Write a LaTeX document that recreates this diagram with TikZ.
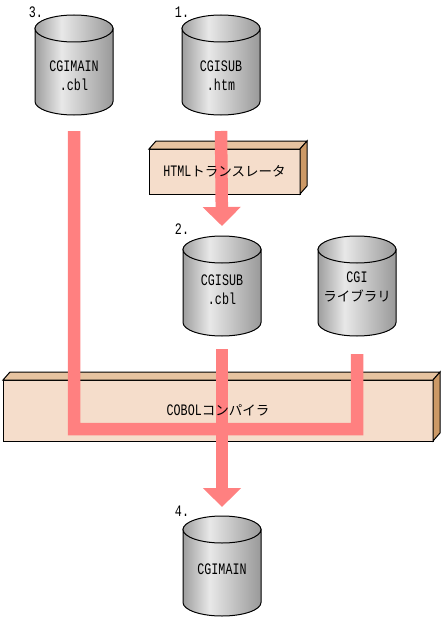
\documentclass[tikz,border=0pt]{standalone}
\usepackage{fontspec}
\setmainfont[FakeStretch=0.73]{Liberation Mono}
\newfontfamily\cjk{Noto Sans CJK JP}
\usepackage{tikz}
\usetikzlibrary{positioning,arrows.meta,shapes.geometric,calc}
\definecolor{boxfront}{HTML}{F5DDCB}
\definecolor{boxtop}{HTML}{E6C3A0}
\definecolor{boxside}{HTML}{CC9966}
\definecolor{flowpink}{HTML}{FF8080}
\pgfdeclarehorizontalshading{cylbody}{100bp}{color(0bp)=(black!38); color(25bp)=(black!38); color(42bp)=(black!9); color(75bp)=(black!40); color(100bp)=(black!40)}
\pgfdeclarehorizontalshading{cyltop}{100bp}{color(0bp)=(black!40); color(30bp)=(black!40); color(50bp)=(black!8); color(70bp)=(black!38); color(100bp)=(black!38)}
\tikzset{
  dbase/.style={cylinder,shape border rotate=90,shape aspect=0.54,draw,line width=1pt,outer sep=0pt,
    inner sep=0pt,text width=50pt,text height=18pt,text depth=18pt,minimum width=78pt,minimum height=100pt,shading=cylbody,
    append after command={
      \pgfextra{\draw[line width=1pt,shading=cyltop,shading angle=-20]
        ($(\tikzlastnode.before top)!0.5!(\tikzlastnode.after top)$) ellipse (39pt and 10.5pt);}}},
  filetext/.style={align=center,inner sep=0pt,font=\fontsize{16}{19}\selectfont},
  solidbox/.style={draw,line width=1pt,fill=boxfront,outer sep=0pt,inner sep=0pt},
  boxtext/.style={font=\fontsize{16}{14}\selectfont},
  numtext/.style={font=\fontsize{16}{14}\selectfont,inner sep=0pt},
  flow/.style={draw=flowpink,line width=12.5pt},
  flowtip/.style={flow,-{Triangle[width=37pt,length=19pt]}},
}
\newcommand{\jp}[1]{{\cjk\fontsize{13.5}{14}\selectfont #1}}
\begin{document}
\begin{tikzpicture}[x=1pt,y=-1pt,>=Stealth]
  \useasboundingbox (0,0) rectangle (443,623);
  % files
  \node[dbase] (cgimain) at (74,72) {};
  \node[dbase,right=69pt of cgimain] (cgisubhtm) {};
  \node[solidbox,minimum width=151pt,minimum height=45pt] (translator) at (224.5,171.5) {};
  \node[dbase,below=121pt of cgisubhtm,xshift=1pt] (cgisubcbl) {};
  \node[dbase,right=57pt of cgisubcbl] (cgilib) {};
  \node[solidbox,minimum width=430pt,minimum height=61pt] (compiler) at (218,410.5) {};
  \node[dbase,below=180pt of cgisubcbl] (cgiexe) {};
  % faces
  \draw[line width=1pt,fill=boxtop] (translator.north west) -- ++(7,-8) -- ++(151,0) -- (translator.north east) -- cycle;
  \draw[line width=1pt,fill=boxside] (translator.north east) -- ++(7,-8) -- ++(0,45) -- (translator.south east) -- cycle;
  \draw[line width=1pt,fill=boxtop] (compiler.north west) -- ++(7,-8) -- ++(430,0) -- (compiler.north east) -- cycle;
  \draw[line width=1pt,fill=boxside] (compiler.north east) -- ++(7,-8) -- ++(0,61) -- (compiler.south east) -- cycle;
  % flows
  \coordinate (libfoot) at ([yshift=-18pt]cgilib.south);
  \draw[flow] ([yshift=-16pt]cgimain.south) |- (357,429) -- (libfoot);
  \draw[flowtip] ([yshift=-16pt]cgisubhtm.south) -- ([yshift=10pt]cgisubcbl.north);
  \draw[flowtip] ([yshift=-13pt]cgisubcbl.south) -- ([yshift=9pt]cgiexe.north);
  % labels go over the flows
  \node[filetext,yshift=-3.5pt] (cgimainlabel) at (cgimain) {CGIMAIN\\.cbl};
  \node[filetext,yshift=-3.5pt] (cgisubhtmlabel) at (cgisubhtm) {CGISUB\\.htm};
  \node[filetext,yshift=3pt] (cgisubcbllabel) at (cgisubcbl) {CGISUB\\.cbl};
  \node[filetext,yshift=6pt] (cgiliblabel) at (cgilib) {CGI\\\jp{ライブラリ}};
  \node[filetext,yshift=4pt] (cgiexelabel) at (cgiexe) {CGIMAIN};
  \node[boxtext] (translatorlabel) at (translator) {HTML\jp{トランスレータ}};
  \node[boxtext] (compilerlabel) at (compiler) {COBOL\jp{コンパイラ}};
  % step numbers
  \node[numtext] (stepone) at (182,12) {1.};
  \node[numtext] (steptwo) at (182,229) {2.};
  \node[numtext] (stepthree) at (36,12) {3.};
  \node[numtext] (stepfour) at (182,511) {4.};
\end{tikzpicture}
\end{document}
